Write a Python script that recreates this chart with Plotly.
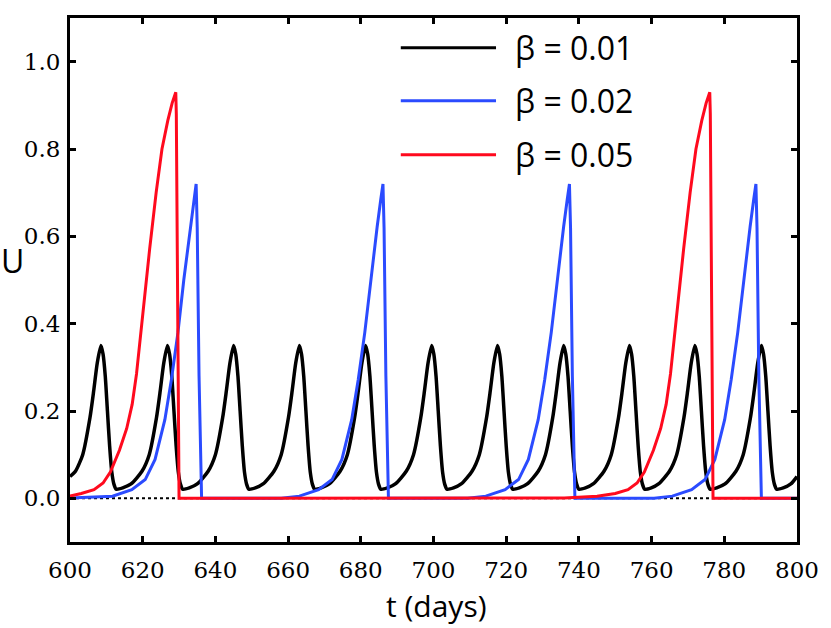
import plotly.graph_objects as go

# series names (shown in the hand-built legend)
names = ["β = 0.01", "β = 0.02", "β = 0.05"]
colors = ["#000000", "#2b4bff", "#ff0a1e"]

# beta = 0.01, one row per oscillation
black_t = [600.0,
           601.5, 603.5, 605.5, 606.5, 607.5, 608.5, 609.1, 609.7, 610.3, 610.9, 611.5, 612.1, 612.7, 614.5,
           616.8, 619.8, 621.8, 623.8, 624.8, 625.8, 626.8, 627.4, 628.0, 628.6, 629.2, 629.8, 630.4, 631.0, 632.8,
           635.0, 638.0, 640.0, 642.0, 643.0, 644.0, 645.0, 645.6, 646.2, 646.8, 647.4, 648.0, 648.6, 649.2, 651.0,
           653.1, 656.1, 658.1, 660.1, 661.1, 662.1, 663.1, 663.7, 664.3, 664.9, 665.5, 666.1, 666.7, 667.3, 669.1,
           671.3, 674.3, 676.3, 678.3, 679.3, 680.3, 681.3, 681.9, 682.5, 683.1, 683.7, 684.3, 684.9, 685.5, 687.3,
           689.5, 692.5, 694.5, 696.5, 697.5, 698.5, 699.5, 700.1, 700.7, 701.3, 701.9, 702.5, 703.1, 703.7, 705.5,
           707.6, 710.6, 712.6, 714.6, 715.6, 716.6, 717.6, 718.2, 718.8, 719.4, 720.0, 720.6, 721.2, 721.8, 723.6,
           725.8, 728.8, 730.8, 732.8, 733.8, 734.8, 735.8, 736.4, 737.0, 737.6, 738.2, 738.8, 739.4, 740.0, 741.8,
           743.9, 746.9, 748.9, 750.9, 751.9, 752.9, 753.9, 754.5, 755.1, 755.7, 756.3, 756.9, 757.5, 758.1, 759.9,
           761.9, 764.9, 766.9, 768.9, 769.9, 770.9, 771.9, 772.5, 773.1, 773.7, 774.3, 774.9, 775.5, 776.1, 777.9,
           780.2, 783.2, 785.2, 787.2, 788.2, 789.2, 790.2, 790.8, 791.4, 792.0, 792.6, 793.2, 793.8, 794.4, 796.2,
           798.3, 800.0]
black_u = [0.050,
           0.062, 0.100, 0.185, 0.245, 0.310, 0.350, 0.330, 0.280, 0.200, 0.120, 0.060, 0.032, 0.021, 0.024,
           0.033, 0.062, 0.100, 0.185, 0.245, 0.310, 0.350, 0.330, 0.280, 0.200, 0.120, 0.060, 0.032, 0.021, 0.024,
           0.033, 0.062, 0.100, 0.185, 0.245, 0.310, 0.350, 0.330, 0.280, 0.200, 0.120, 0.060, 0.032, 0.021, 0.024,
           0.033, 0.062, 0.100, 0.185, 0.245, 0.310, 0.350, 0.330, 0.280, 0.200, 0.120, 0.060, 0.032, 0.021, 0.024,
           0.033, 0.062, 0.100, 0.185, 0.245, 0.310, 0.350, 0.330, 0.280, 0.200, 0.120, 0.060, 0.032, 0.021, 0.024,
           0.033, 0.062, 0.100, 0.185, 0.245, 0.310, 0.350, 0.330, 0.280, 0.200, 0.120, 0.060, 0.032, 0.021, 0.024,
           0.033, 0.062, 0.100, 0.185, 0.245, 0.310, 0.350, 0.330, 0.280, 0.200, 0.120, 0.060, 0.032, 0.021, 0.024,
           0.033, 0.062, 0.100, 0.185, 0.245, 0.310, 0.350, 0.330, 0.280, 0.200, 0.120, 0.060, 0.032, 0.021, 0.024,
           0.033, 0.062, 0.100, 0.185, 0.245, 0.310, 0.350, 0.330, 0.280, 0.200, 0.120, 0.060, 0.032, 0.021, 0.024,
           0.033, 0.062, 0.100, 0.185, 0.245, 0.310, 0.350, 0.330, 0.280, 0.200, 0.120, 0.060, 0.032, 0.021, 0.024,
           0.033, 0.062, 0.100, 0.185, 0.245, 0.310, 0.350, 0.330, 0.280, 0.200, 0.120, 0.060, 0.032, 0.021, 0.024,
           0.033, 0.050]

# beta = 0.02
blue_t = [600.0, 611.7, 617.0, 620.7, 623.4, 626.1, 627.9, 629.7, 631.3, 633.1, 634.1, 634.7, 635.0, 635.5, 636.2,
          658.1, 663.1, 668.4, 672.1, 674.8, 677.5, 679.3, 681.1, 682.7, 684.5, 685.5, 686.1, 686.4, 686.9, 687.6,
          709.4, 714.4, 719.7, 723.4, 726.1, 728.8, 730.6, 732.4, 734.0, 735.8, 736.8, 737.4, 737.7, 738.2, 738.9,
          760.7, 765.7, 771.0, 774.7, 777.4, 780.1, 781.9, 783.7, 785.3, 787.1, 788.1, 788.7, 789.0, 789.5, 790.2,
          800.0]
blue_u = [0.001, 0.005, 0.020, 0.043, 0.089, 0.180, 0.272, 0.380, 0.500, 0.622, 0.685, 0.720, 0.620, 0.280, 0.000,
          0.000, 0.005, 0.020, 0.043, 0.089, 0.180, 0.272, 0.380, 0.500, 0.622, 0.685, 0.720, 0.620, 0.280, 0.000,
          0.000, 0.005, 0.020, 0.043, 0.089, 0.180, 0.272, 0.380, 0.500, 0.622, 0.685, 0.720, 0.620, 0.280, 0.000,
          0.000, 0.005, 0.020, 0.043, 0.089, 0.180, 0.272, 0.380, 0.500, 0.622, 0.685, 0.720, 0.620, 0.280, 0.000,
          0.000]

# beta = 0.05
red_t = [600.0, 603.1, 606.6, 609.1, 611.1, 613.6, 615.6, 617.1, 618.3, 620.1, 621.9, 623.7, 625.3, 626.9,
         628.1, 629.1, 629.25, 630.0,
         736.0, 745.0, 750.0, 753.5, 756.0, 758.0, 760.5, 762.5, 764.0, 765.2, 767.0, 768.8, 770.6, 772.2,
         773.8, 775.0, 776.0, 776.15, 776.9, 800.0]
red_u = [0.005, 0.011, 0.020, 0.035, 0.060, 0.110, 0.160, 0.215, 0.285, 0.430, 0.570, 0.700, 0.800, 0.865,
         0.905, 0.930, 0.880, 0.000,
         0.001, 0.005, 0.011, 0.020, 0.035, 0.060, 0.110, 0.160, 0.215, 0.285, 0.430, 0.570, 0.700, 0.800,
         0.865, 0.905, 0.930, 0.880, 0.000, 0.000]

x_ticks = [600, 620, 640, 660, 680, 700, 720, 740, 760, 780, 800]
y_ticks = [0.0, 0.2, 0.4, 0.6, 0.8, 1.0]

fig = go.Figure()
# dotted zero line under everything
fig.add_hline(y=0, line=dict(color="black", width=2, dash="dot"), layer="below")

fig.add_trace(go.Scatter(x=black_t, y=black_u, mode="lines", name=names[0],
                         line=dict(color=colors[0], width=3.5, shape="spline", smoothing=0.6)))
fig.add_trace(go.Scatter(x=blue_t, y=blue_u, mode="lines", name=names[1],
                         line=dict(color=colors[1], width=3)))
fig.add_trace(go.Scatter(x=red_t, y=red_u, mode="lines", name=names[2],
                         line=dict(color=colors[2], width=3)))

# legend drawn by hand so the sample lines are long like the original
leg_y = [0.943, 0.842, 0.739]
for name, col, yy in zip(names, colors, leg_y):
    fig.add_shape(type="line", xref="paper", yref="paper", x0=0.455, x1=0.586, y0=yy, y1=yy,
                  line=dict(color=col, width=3))
    fig.add_annotation(xref="paper", yref="paper", x=0.61, y=yy, text=name, showarrow=False,
                       xanchor="left", yanchor="middle",
                       font=dict(family="Open Sans", size=32, color="black"))

# axis titles
fig.add_annotation(xref="paper", yref="paper", x=0.504, y=-0.121, text="t (days)", showarrow=False,
                   xanchor="center", yanchor="middle", font=dict(family="Open Sans", size=30, color="black"))
fig.add_annotation(xref="paper", yref="paper", x=-0.079, y=0.538, text="U", showarrow=False,
                   xanchor="center", yanchor="middle", font=dict(family="Open Sans", size=32, color="black"))

axis_common = dict(showline=True, linecolor="black", linewidth=3, mirror="allticks",
                   ticks="inside", ticklen=6, tickwidth=2.5, tickcolor="black",
                   showgrid=False, zeroline=False,
                   tickfont=dict(family="DejaVu Serif", size=23, color="black"))
fig.update_xaxes(range=[600, 800], tickvals=x_ticks, ticktext=[str(v) for v in x_ticks],
                 ticklabelstandoff=5, **axis_common)
fig.update_yaxes(range=[-0.1, 1.1], tickvals=y_ticks, ticktext=["%.1f" % v for v in y_ticks],
                 ticklabelstandoff=2, **axis_common)

fig.update_layout(width=831, height=628, showlegend=False,
                  plot_bgcolor="white", paper_bgcolor="white",
                  margin=dict(l=70, r=27, t=18, b=86))

# drop the page's default body margin so the figure sits at the window corner
fig.write_html("out.html", config={"displayModeBar": False},
               post_script="document.body.style.margin='0';")
